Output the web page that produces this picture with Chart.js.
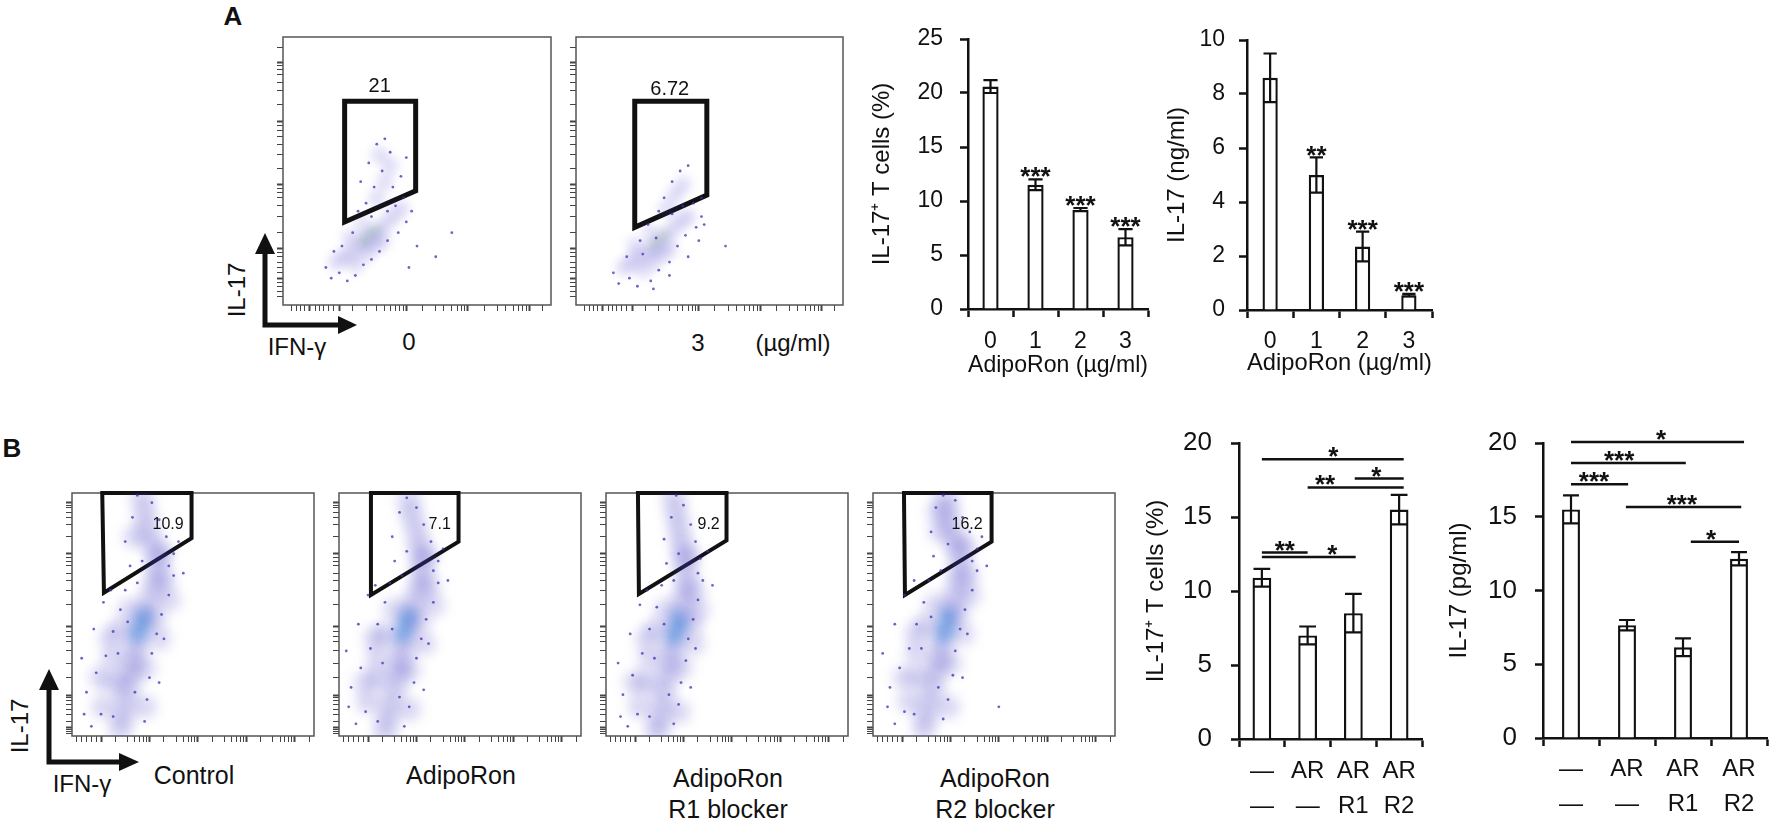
<!doctype html>
<html>
<head>
    <title>AdipoRon and IL-17</title>
    <script src="https://cdn.jsdelivr.net/npm/chart.js@4.4.0/dist/chart.umd.min.js"></script>
    <style>
    body { margin: 0; background: #fff; }
    #fig { position: relative; width: 1772px; height: 822px; overflow: hidden; background: #fff;
           font-family: "Liberation Sans", Arial, Helvetica, sans-serif; color: #111; }
    .box { position: absolute; }
    .t { position: absolute; transform: translate(-50%, -50%); white-space: nowrap; line-height: 1; font-size: 24px; }
    .rot { transform: translate(-50%, -50%) rotate(-90deg); }
    </style>
</head>
<body>
<div id="fig">
    <svg width="1772" height="822" style="position:absolute;left:0;top:0">
        <g fill="#111" stroke="#111" stroke-width="5" stroke-linejoin="miter">
            <polyline points="265,252 265,325 340,325" fill="none"/>
            <polygon points="255,254 275,254 265,233" stroke="none"/>
            <polygon points="338,316 338,334 357,325" stroke="none"/>
            <polyline points="49,688 49,762 121,762" fill="none"/>
            <polygon points="39,690 59,690 49,669" stroke="none"/>
            <polygon points="119,753 119,771 139,762" stroke="none"/>
        </g>
    </svg>

    <div class="t" style="left:233px;top:16px;font-weight:bold;font-size:26px">A</div>
    <div class="t" style="left:12px;top:448px;font-weight:bold;font-size:26px">B</div>

    <div class="t rot" style="left:237px;top:290px">IL-17</div>
    <div class="t" style="left:297px;top:347px">IFN-γ</div>
    <div class="t" style="left:409px;top:342px">0</div>
    <div class="t" style="left:698px;top:343px">3</div>
    <div class="t" style="left:793px;top:343px">(µg/ml)</div>

    <div class="t rot" style="left:20px;top:726px">IL-17</div>
    <div class="t" style="left:82px;top:784px">IFN-γ</div>
    <div class="t" style="left:194px;top:775px;font-size:25px">Control</div>
    <div class="t" style="left:461px;top:775px;font-size:25px">AdipoRon</div>
    <div class="t" style="left:728px;top:778px;font-size:25px">AdipoRon</div>
    <div class="t" style="left:728px;top:809px;font-size:25px">R1 blocker</div>
    <div class="t" style="left:995px;top:778px;font-size:25px">AdipoRon</div>
    <div class="t" style="left:995px;top:809px;font-size:25px">R2 blocker</div>

    <div class="box" style="left:274px;top:28px;width:286px;height:286px"><canvas id="flowA1"></canvas></div>
    <div class="box" style="left:567px;top:28px;width:285px;height:286px"><canvas id="flowA2"></canvas></div>
    <div class="box" style="left:60px;top:481px;width:266px;height:267px"><canvas id="flowB1"></canvas></div>
    <div class="box" style="left:327px;top:481px;width:266px;height:267px"><canvas id="flowB2"></canvas></div>
    <div class="box" style="left:594px;top:481px;width:266px;height:267px"><canvas id="flowB3"></canvas></div>
    <div class="box" style="left:861px;top:481px;width:266px;height:267px"><canvas id="flowB4"></canvas></div>

    <div class="box" style="left:850px;top:20px;width:306px;height:370px"><canvas id="barA1"></canvas></div>
    <div class="box" style="left:1150px;top:20px;width:290px;height:370px"><canvas id="barA2"></canvas></div>
    <div class="box" style="left:1135px;top:420px;width:295px;height:402px"><canvas id="barB1"></canvas></div>
    <div class="box" style="left:1440px;top:415px;width:332px;height:407px"><canvas id="barB2"></canvas></div>
</div>

<script>
// ---- panel A bars ----
var doseLabels = ['0', '1', '2', '3'];
var tcellA = [20.6, 11.5, 9.2, 6.65];
var tcellA_sd = [0.6, 0.5, 0.15, 0.75];
var tcellA_stars = ['', '***', '***', '***'];
var il17A = [8.6, 5.0, 2.35, 0.55];
var il17A_sd = [0.9, 0.65, 0.55, 0.05];
var il17A_stars = ['', '**', '***', '***'];

// ---- panel B bars ----
var groupLabels = [['—', '—'], ['AR', '—'], ['AR', 'R1'], ['AR', 'R2']];
var tcellB = [10.9, 7.0, 8.5, 15.5];
var tcellB_sd = [0.6, 0.6, 1.3, 1.0];
var il17B = [15.5, 7.65, 6.15, 12.15];
var il17B_sd = [0.95, 0.35, 0.6, 0.45];
// brackets: [from, to, y, stars, star position]
var tcellB_sig = [[0, 3.1, 18.9, '*', 1.56], [1, 3.1, 17.0, '**', 1.38], [2.03, 3.1, 17.6, '*', 2.5],
                  [0, 1, 12.6, '**', 0.5], [0, 2.05, 12.3, '*', 1.54]];
var il17B_sig = [[0, 3.09, 20.07, '*', 1.61], [0, 2.05, 18.64, '***', 0.86], [0, 1.02, 17.2, '***', 0.41],
                 [0.98, 3.04, 15.66, '***', 1.98], [2.14, 3.0, 13.3, '*', 2.5]];

// ---- flow plots (percent of plot frame) ----
var ticksA_major = [10, 21, 46, 69, 92];
var ticksA_minor = [3, 5, 6.5, 8, 12, 13.5, 15, 17, 19, 26, 31, 35, 38, 40, 42, 43.5, 44.8, 52, 57, 60, 63, 65, 66.5, 67.8,
                    75, 80, 83, 86, 88, 89.5, 90.8, 97];
var ticksAy_major = [10, 21, 45, 68.6, 90.6];
var ticksAy_minor = [3, 5, 7, 8.5, 12, 14, 16, 18, 19.5, 27, 33, 37, 40, 42, 43.5, 51, 56, 60, 63, 65, 67,
                     75, 80, 83, 86, 88, 89.5, 96];
var ticksB_major = [12, 32, 52, 72, 92];
var ticksB_minor = [2, 4, 6, 8, 10, 18, 23, 26, 28, 29.5, 30.8, 38, 43, 46, 48, 49.5, 50.8, 58, 63, 66, 68, 69.5, 70.8,
                    78, 83, 86, 88, 89.5, 90.8, 98];
var ticksBy_major = [3.5, 16.7, 45, 75, 96];
var ticksBy_minor = [1, 2, 2.8, 6, 9, 11, 13, 14.5, 15.7, 24, 30, 35, 39, 41, 43, 54, 60, 64, 67, 70, 72, 73.5,
                     82, 87, 90, 92, 94, 95];

var gateA1 = [[23, 76], [49.5, 76], [49.5, 42.6], [23, 31], [23, 76]];
var hazeA1 = [[20,16],[23,18],[26,20],[29,23],[32,25],[35,27],[38,30],[41,33],[44,36],[27,15],[31,19],[34,22],
              [25,25],[30,30],[37,24],[35,40],[38,46],[40,52],[36,56]];
var dotsA1 = [[16,14],[18,10],[21,12],[24,9],[27,11],[22,22],[19,20],[26,27],[30,15],[33,17],[36,20],[39,24],
              [43,27],[46,31],[48,35],[45,40],[42,37],[39,35],[33,33],[31,38],[34,44],[37,50],[40,57],[38,62],
              [35,60],[44,48],[46,55],[41,44],[29,46],[32,53],[50,22],[57,18],[47,14],[63,27],[28,35]];
var coreA1 = [[31,25],[33,27],[35,28],[30,23]];

var gateA2 = [[22, 76], [49, 76], [49, 41], [22, 29], [22, 76]];
var hazeA2 = [[18,14],[21,16],[24,18],[27,20],[30,22],[33,25],[36,28],[39,31],[42,33],[25,13],[29,16],[32,19],
              [22,22],[28,27],[35,21],[34,36],[37,41],[40,45]];
var dotsA2 = [[14,12],[16,8],[20,10],[23,7],[28,9],[19,18],[24,24],[27,30],[31,13],[35,16],[38,22],[41,26],
              [45,29],[47,33],[44,38],[40,37],[36,34],[33,40],[36,46],[39,50],[42,52],[31,35],[25,19],[30,25],
              [46,24],[48,30],[29,6],[56,22],[35,11],[47,40],[42,18]];
var coreA2 = [[31,24],[33,26],[29,22]];

var gateB1 = [[12.5, 100], [49.4, 100], [49.4, 81.4], [13.2, 59], [12.5, 100]];
var hazeB1 = [[29,98],[30,92],[31,86],[33,80],[35,74],[35,68],[34,62],[32,56],[30,50],[28,45],[27,40],[26,35],
              [25,30],[24,25],[23,20],[22,14],[21,8],[20,3],[38,64],[24,52],[34,48],[18,22],[13,12],[30,28],
              [37,75],[26,82],[16,40],[40,56],[20,44],[17,32],[36,40],[12,24],[30,12]];
var dotsB1 = [[8,4],[12,9],[6,18],[10,26],[14,33],[17,43],[20,52],[22,60],[24,70],[22,80],[25,90],[27,99],
              [33,96],[36,89],[39,82],[42,75],[42,66],[40,58],[37,50],[35,42],[33,34],[32,24],[31,15],[30,6],
              [4,32],[9,44],[13,55],[44,80],[17,8],[36,22],[27,63],[19,34],[26,18],[29,72],[40,70],[16,60],
              [38,40],[23,47],[46,67],[5,9]];
var coreB1 = [[28,44],[29,47],[27,41],[30,50]];

var gateB2 = [[13.2, 100], [49.4, 100], [49.4, 80], [13.2, 58], [13.2, 100]];
var hazeB2 = [[29,97],[30,91],[32,85],[33,79],[34,73],[34,67],[33,61],[31,55],[29,50],[28,45],[27,40],[26,35],
              [25,30],[24,25],[23,19],[21,13],[20,7],[19,2],[37,62],[23,52],[33,47],[16,24],[12,14],[29,27],
              [36,74],[15,40],[39,54],[19,42],[16,32],[35,38],[11,22],[29,11]];
var dotsB2 = [[7,5],[11,10],[5,20],[9,28],[13,36],[16,46],[19,55],[21,63],[23,72],[22,82],[25,92],[28,98],
              [32,94],[35,87],[38,80],[41,72],[41,63],[39,55],[36,48],[34,40],[32,32],[31,22],[29,12],[27,4],
              [3,35],[8,46],[12,58],[43,77],[16,6],[35,19],[26,66],[18,30],[25,16],[28,76],[39,68],[15,62],
              [37,38],[22,44],[45,64],[4,12]];
var coreB2 = [[27,44],[28,47],[26,41],[29,50]];

var gateB3 = [[13.2, 100], [49.8, 100], [49.8, 80.5], [13.6, 58.5], [13.2, 100]];
var hazeB3 = [[28,98],[29,92],[30,86],[31,80],[32,74],[33,68],[33,62],[32,56],[31,50],[29,45],[28,40],[27,35],
              [26,30],[25,24],[24,18],[23,12],[22,6],[21,2],[36,60],[25,52],[35,46],[17,22],[14,12],[31,28],
              [34,74],[17,40],[38,52],[21,44],[18,32],[36,38],[12,22],[30,10]];
var dotsB3 = [[9,4],[13,9],[7,17],[11,25],[15,34],[18,44],[21,53],[23,62],[25,71],[24,81],[27,90],[29,99],
              [32,95],[35,87],[37,80],[39,73],[40,64],[38,56],[36,48],[34,40],[33,31],[31,22],[30,13],[28,5],
              [5,30],[10,42],[14,54],[42,76],[18,8],[35,20],[28,64],[20,32],[26,17],[30,75],[38,67],[17,60],
              [37,36],[24,46],[44,62],[6,8]];
var coreB3 = [[29,43],[30,46],[28,40],[30,49]];

var gateB4 = [[12.8, 100], [49, 100], [49, 80], [13.2, 58], [12.8, 100]];
var hazeB4 = [[30,98],[31,93],[32,87],[34,81],[35,76],[36,70],[35,64],[34,58],[32,52],[30,46],[29,41],[28,36],
              [27,31],[26,26],[25,20],[23,14],[22,8],[21,3],[39,66],[26,54],[35,50],[19,24],[15,14],[32,30],
              [38,78],[28,84],[18,42],[27,92],[40,58],[22,46],[18,34],[37,42],[13,24],[31,12]];
var dotsB4 = [[9,5],[13,10],[7,20],[11,28],[15,36],[18,46],[21,55],[23,64],[25,74],[24,84],[26,94],[29,99],
              [34,97],[37,90],[40,84],[43,77],[43,68],[41,60],[38,52],[36,44],[34,35],[33,25],[31,15],[29,7],
              [4,34],[9,46],[13,58],[45,82],[17,9],[37,24],[28,68],[20,36],[27,20],[31,79],[41,72],[17,64],
              [39,42],[24,49],[47,70],[6,12],[52,12]];
var coreB4 = [[30,44],[31,47],[29,41],[31,50]];

var FONT = '"Liberation Sans", Arial, Helvetica, sans-serif';
Chart.defaults.font.family = FONT;
Chart.defaults.color = '#111';
Chart.defaults.animation = false;

function xy(arr) { return arr.map(function(p) { return {x: p[0], y: p[1]}; }); }

function tickList(major, minor) {
    return major.map(function(v) { return {value: v, major: true}; })
        .concat(minor.map(function(v) { return {value: v, major: false}; }))
        .sort(function(a, b) { return a.value - b.value; });
}

function flowAxis(major, minor) {
    return {
        min: 0, max: 100,
        afterBuildTicks: function(s) { s.ticks = tickList(major, minor); },
        afterFit: function(s) {
            if (s.isHorizontal()) s.height = 6; else s.width = 6;
            s.paddingTop = s.paddingBottom = s.paddingLeft = s.paddingRight = 0;
        },
        ticks: {display: false, autoSkip: false},
        border: {display: false},
        grid: {drawOnChartArea: false, drawTicks: true, tickLength: 6, tickColor: '#444',
               tickWidth: function(c) { return c.tick && c.tick.major ? 2 : 1; }}
    };
}

function flowPlot(id, p) {
    var framePlugin = {
        id: 'frame',
        beforeDatasetsDraw: function(chart) {
            var a = chart.chartArea, ctx = chart.ctx;
            ctx.save();
            ctx.strokeStyle = '#555';
            ctx.lineWidth = 1.5;
            ctx.strokeRect(a.left, a.top, a.right - a.left, a.bottom - a.top);
            ctx.restore();
        },
        // soften the density layers so they read as a cloud of events
        beforeDatasetDraw: function(chart, args) {
            if (args.index === 0 || args.index === 2) {
                chart.ctx.save();
                chart.ctx.filter = 'blur(' + p.blur + 'px)';
            }
        },
        afterDatasetDraw: function(chart, args) {
            if (args.index === 0 || args.index === 2) chart.ctx.restore();
        },
        afterDatasetsDraw: function(chart) {
            var ctx = chart.ctx;
            ctx.save();
            ctx.fillStyle = '#111';
            ctx.font = p.labelFont + 'px ' + FONT;
            ctx.textAlign = 'center';
            ctx.textBaseline = 'middle';
            ctx.fillText(p.label[2], chart.scales.x.getPixelForValue(p.label[0]),
                         chart.scales.y.getPixelForValue(p.label[1]));
            ctx.restore();
        }
    };
    return new Chart(document.getElementById(id), {
        type: 'scatter',
        data: {
            datasets: [
                {data: xy(p.haze), pointRadius: p.hazeR, backgroundColor: p.hazeColor, borderWidth: 0},
                {data: xy(p.dots), pointRadius: 1.4, backgroundColor: 'rgba(60,50,175,0.75)', borderWidth: 0},
                {data: xy(p.core), pointRadius: p.coreR, backgroundColor: p.coreColor, borderWidth: 0},
                {data: xy(p.gate), showLine: true, pointRadius: 0, borderColor: '#111', borderWidth: p.gateW,
                 borderJoinStyle: 'miter', borderCapStyle: 'square', tension: 0, fill: false, clip: 8}
            ]
        },
        options: {
            responsive: true,
            maintainAspectRatio: false,
            layout: {padding: {top: 3, right: 3, left: 0, bottom: 0}},
            plugins: {legend: {display: false}, tooltip: {enabled: false}},
            scales: {x: flowAxis(p.xMajor, p.xMinor), y: flowAxis(p.yMajor, p.yMinor)}
        },
        plugins: [framePlugin]
    });
}

function barMarks(sd, stars, sig) {
    return {
        id: 'barMarks',
        afterDatasetsDraw: function(chart) {
            var ctx = chart.ctx, xs = chart.scales.x, ys = chart.scales.y;
            var meta = chart.getDatasetMeta(0), vals = chart.data.datasets[0].data;
            ctx.save();
            ctx.strokeStyle = '#111';
            ctx.fillStyle = '#111';
            ctx.lineWidth = 2.2;
            meta.data.forEach(function(bar, i) {
                var hw = bar.width / 2 - 1;
                var yt = ys.getPixelForValue(vals[i] + sd[i]);
                var yb = ys.getPixelForValue(vals[i] - sd[i]);
                ctx.beginPath();
                ctx.moveTo(bar.x, yt); ctx.lineTo(bar.x, yb);
                ctx.moveTo(bar.x - hw, yt); ctx.lineTo(bar.x + hw, yt);
                ctx.moveTo(bar.x - hw, yb); ctx.lineTo(bar.x + hw, yb);
                ctx.stroke();
            });
            ctx.font = 'bold 26px ' + FONT;
            ctx.textAlign = 'center';
            ctx.textBaseline = 'alphabetic';
            if (stars) {
                meta.data.forEach(function(bar, i) {
                    if (!stars[i]) return;
                    var yt = ys.getPixelForValue(vals[i] + sd[i]);
                    ctx.fillText(stars[i], bar.x, yt - 9 + 0.58 * 26);
                });
            }
            if (sig) {
                ctx.lineWidth = 2.5;
                sig.forEach(function(s) {
                    var y = ys.getPixelForValue(s[2]);
                    ctx.beginPath();
                    ctx.moveTo(xs.getPixelForValue(s[0]), y);
                    ctx.lineTo(xs.getPixelForValue(s[1]), y);
                    ctx.stroke();
                    ctx.fillText(s[3], xs.getPixelForValue(s[4]), y - 9 + 0.58 * 26);
                });
            }
            ctx.restore();
        }
    };
}

function barChart(id, g, labels, values, sd, stars, sig) {
    return new Chart(document.getElementById(id), {
        type: 'bar',
        data: {
            labels: labels,
            datasets: [{data: values, backgroundColor: '#fff', borderColor: '#111', borderWidth: 2.4,
                        borderSkipped: 'start', barPercentage: g.barPct, categoryPercentage: 1}]
        },
        options: {
            responsive: true,
            maintainAspectRatio: false,
            layout: {padding: g.pad},
            plugins: {legend: {display: false}, tooltip: {enabled: false}},
            scales: {
                x: {
                    afterFit: function(s) { s.height = g.xH; s.paddingLeft = s.paddingRight = 0; },
                    border: {color: '#111', width: 2.5},
                    grid: {offset: true, drawOnChartArea: false, drawTicks: true, tickLength: 8,
                           tickColor: '#111', tickWidth: 2.5},
                    ticks: {color: '#111', autoSkip: false, maxRotation: 0, padding: g.xPad,
                            font: {size: g.xFont, lineHeight: g.xLine}},
                    title: {display: !!g.xTitle, text: g.xTitle, color: '#111', font: {size: 24},
                            padding: {top: 0, bottom: g.xTitlePad}}
                },
                y: {
                    min: 0, max: g.yMax,
                    afterFit: function(s) { s.width = g.yW; s.paddingTop = s.paddingBottom = 0; },
                    border: {color: '#111', width: 2.5},
                    grid: {drawOnChartArea: false, drawTicks: true, tickLength: 8, tickColor: '#111', tickWidth: 2.5},
                    ticks: {stepSize: g.step, color: '#111', padding: g.yPad, font: {size: g.yFont}},
                    title: {display: true, text: g.yTitle, color: '#111', font: {size: 24},
                            padding: {top: g.yTitlePad, bottom: 0}}
                }
            }
        },
        plugins: [barMarks(sd, stars, sig)]
    });
}

window.onload = function() {
    flowPlot('flowA1', {gate: gateA1, haze: hazeA1, dots: dotsA1, core: coreA1, hazeR: 9, coreR: 3,
        hazeColor: 'rgba(80,70,205,0.16)', blur: 4,
        coreColor: 'rgba(120,200,90,0.6)', gateW: 5, label: [36.1, 81.6, '21'], labelFont: 20,
        xMajor: ticksA_major, xMinor: ticksA_minor, yMajor: ticksAy_major, yMinor: ticksAy_minor});
    flowPlot('flowA2', {gate: gateA2, haze: hazeA2, dots: dotsA2, core: coreA2, hazeR: 9, coreR: 3,
        hazeColor: 'rgba(80,70,205,0.16)', blur: 4,
        coreColor: 'rgba(120,200,90,0.6)', gateW: 5, label: [35.1, 80.5, '6.72'], labelFont: 20,
        xMajor: ticksA_major, xMinor: ticksA_minor, yMajor: ticksAy_major, yMinor: ticksAy_minor});
    var bFlows = [['flowB1', gateB1, hazeB1, dotsB1, coreB1, [39.7, 87.2, '10.9']],
                  ['flowB2', gateB2, hazeB2, dotsB2, coreB2, [41.6, 87.2, '7.1']],
                  ['flowB3', gateB3, hazeB3, dotsB3, coreB3, [42.4, 87.2, '9.2']],
                  ['flowB4', gateB4, hazeB4, dotsB4, coreB4, [38.9, 87.2, '16.2']]];
    bFlows.forEach(function(f) {
        flowPlot(f[0], {gate: f[1], haze: f[2], dots: f[3], core: f[4], hazeR: 12, coreR: 7,
            hazeColor: 'rgba(70,60,195,0.2)', blur: 6,
            coreColor: 'rgba(70,190,235,0.5)', gateW: 4, label: f[5], labelFont: 16,
            xMajor: ticksB_major, xMinor: ticksB_minor, yMajor: ticksBy_major, yMinor: ticksBy_minor});
    });

    barChart('barA1', {pad: {top: 19, right: 8, left: 0, bottom: 0}, yW: 118, xH: 81, barPct: 0.36,
        yMax: 25, step: 5, yFont: 23, yPad: 17, xFont: 23, xLine: 1.2, xPad: 11,
        xTitle: 'AdipoRon (µg/ml)', xTitlePad: 10, yTitle: 'IL-17⁺ T cells (%)', yTitlePad: 18},
        doseLabels, tcellA, tcellA_sd, tcellA_stars, null);
    barChart('barA2', {pad: {top: 20, right: 8, left: 0, bottom: 0}, yW: 97, xH: 80, barPct: 0.33,
        yMax: 10, step: 2, yFont: 23, yPad: 14, xFont: 23, xLine: 1.2, xPad: 10,
        xTitle: 'AdipoRon (µg/ml)', xTitlePad: 12, yTitle: 'IL-17 (ng/ml)', yTitlePad: 13},
        doseLabels, il17A, il17A_sd, il17A_stars, null);
    barChart('barB1', {pad: {top: 23, right: 8, left: 0, bottom: 0}, yW: 104, xH: 83, barPct: 0.41,
        yMax: 20, step: 5, yFont: 26, yPad: 19, xFont: 24, xLine: 1.46, xPad: 7,
        xTitle: '', xTitlePad: 0, yTitle: 'IL-17⁺ T cells (%)', yTitlePad: 7},
        groupLabels, tcellB, tcellB_sd, null, tcellB_sig);
    barChart('barB2', {pad: {top: 28, right: 5, left: 0, bottom: 0}, yW: 103, xH: 84, barPct: 0.32,
        yMax: 20, step: 5, yFont: 26, yPad: 18, xFont: 24, xLine: 1.46, xPad: 6,
        xTitle: '', xTitlePad: 0, yTitle: 'IL-17 (pg/ml)', yTitlePad: 5},
        groupLabels, il17B, il17B_sd, null, il17B_sig);
};
</script>
</body>
</html>
